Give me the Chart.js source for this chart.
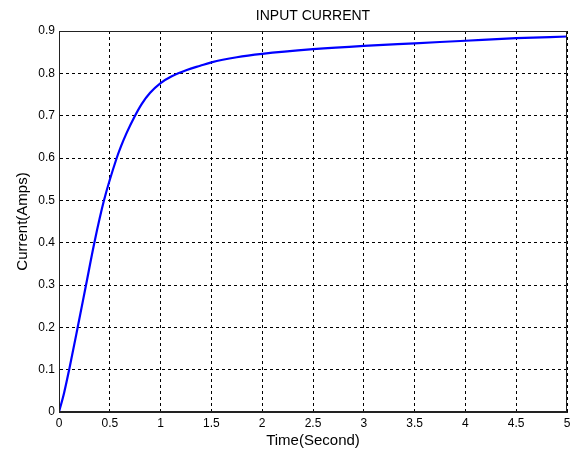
<!DOCTYPE html>
<html>
<head>
<meta charset="utf-8">
<script src="https://cdn.jsdelivr.net/npm/chart.js@4.4.1/dist/chart.umd.min.js"></script>
<style>
  html, body { margin: 0; padding: 0; background: #fff; }
  #wrap { width: 578px; height: 452px; }
</style>
</head>
<body>
<div id="wrap"><canvas id="myChart" width="578" height="452"></canvas></div>
<script>
// time (s) and current (A)
const times = [0, 0.05, 0.1, 0.184, 0.266, 0.348, 0.443, 0.568, 0.611, 0.667, 0.742, 0.815, 0.897, 1.0, 1.11, 1.258, 1.39, 1.5, 1.75, 2.0, 2.5, 3.0, 3.5, 4.0, 4.5, 5.0];
const current = [0, 0.045, 0.1, 0.2, 0.3, 0.4, 0.5, 0.6, 0.628, 0.66, 0.697, 0.728, 0.754, 0.777, 0.793, 0.808, 0.818, 0.826, 0.838, 0.846, 0.857, 0.865, 0.871, 0.877, 0.883, 0.887];
const xTicks = [0, 0.5, 1, 1.5, 2, 2.5, 3, 3.5, 4, 4.5, 5];
const yTicks = [0, 0.1, 0.2, 0.3, 0.4, 0.5, 0.6, 0.7, 0.8, 0.9];

const points = times.map((t, i) => ({ x: t, y: current[i] }));

// solid box round the plot area, like matlab axes
const boxPlugin = {
    id: 'box',
    afterDraw(chart) {
        const a = chart.chartArea;
        const ctx = chart.ctx;
        ctx.save();
        ctx.strokeStyle = '#222';
        ctx.lineWidth = 1;
        ctx.strokeRect(a.left + 0.5, a.top + 0.5, a.right - a.left - 1, a.bottom - a.top - 1);
        ctx.restore();
    }
};

const fam = 'Arial, "Liberation Sans", sans-serif';
const tickFont = { family: fam, size: 12 };
const label = v => String(Math.round(v * 10) / 10);

const ctx = document.getElementById('myChart').getContext('2d');
new Chart(ctx, {
    type: 'line',
    data: {
        datasets: [
            {
                label: 'Current',
                data: points,
                borderColor: '#0000ff',
                backgroundColor: '#0000ff',
                borderWidth: 2.2,
                pointRadius: 0,
                cubicInterpolationMode: 'monotone',
                fill: false
            }
        ]
    },
    options: {
        responsive: false,
        animation: false,
        layout: { padding: { left: 0, right: 11, top: 0, bottom: 0 } },
        plugins: {
            legend: { display: false },
            tooltip: { enabled: false },
            title: {
                display: true,
                fullSize: false,
                text: 'INPUT CURRENT',
                color: '#000',
                font: { family: fam, size: 14, weight: 'normal' },
                padding: { top: 8, bottom: 6.2 }
            }
        },
        scales: {
            x: {
                type: 'linear',
                min: 0,
                max: 5,
                afterBuildTicks: s => { s.ticks = xTicks.map(v => ({ value: v })); },
                afterFit: s => { s.height = 40; },
                ticks: { color: '#000', font: tickFont, padding: 4, maxRotation: 0, callback: label },
                grid: { color: '#000', drawTicks: false, lineWidth: 1 },
                border: { display: true, color: '#222', dash: [3, 3] },
                title: {
                    display: true,
                    text: 'Time(Second)',
                    color: '#000',
                    font: { family: fam, size: 15 },
                    padding: { top: 0, bottom: 2 }
                }
            },
            y: {
                min: 0,
                max: 0.9,
                afterBuildTicks: s => { s.ticks = yTicks.map(v => ({ value: v })); },
                afterFit: s => { s.width = 59; },
                ticks: { color: '#000', font: tickFont, padding: 4, callback: label },
                grid: { color: '#000', drawTicks: false, lineWidth: 1 },
                border: { display: true, color: '#222', dash: [3, 3] },
                title: {
                    display: true,
                    text: 'Current(Amps)',
                    color: '#000',
                    font: { family: fam, size: 15 },
                    padding: { top: 14, bottom: 0 }
                }
            }
        }
    },
    plugins: [boxPlugin]
});
</script>
</body>
</html>
